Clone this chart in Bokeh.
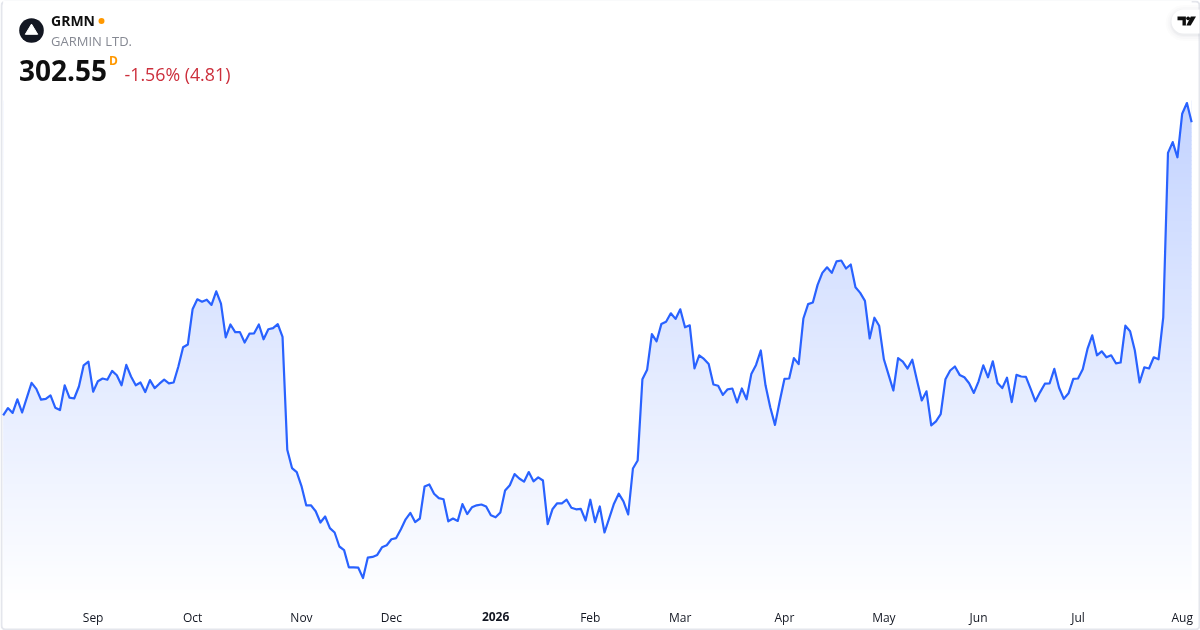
from bokeh.plotting import figure
from bokeh.models import Range1d, LinearAxis, FixedTicker
from bokeh.core.properties import value
from bokeh.embed import file_html
from bokeh.resources import INLINE

symbol = "GRMN"
company = "GARMIN LTD."
last_price = "302.55"
interval = "D"
change_text = "-1.56% (4.81)"

prices_aug_oct = [
    229.3, 231.1, 229.9, 233.3, 230.0, 233.7, 237.4, 235.9, 233.2, 233.4, 234.3, 231.2, 230.6, 236.8, 233.7,
    233.5, 236.5, 241.8, 242.7, 235.2, 237.8, 238.5, 238.2, 240.4, 239.3, 236.8, 241.9, 239.0, 236.8, 237.5,
    235.1, 238.1, 236.1, 237.2, 238.2, 237.3, 237.5, 241.5, 246.3, 247.0, 255.8, 258.3, 257.7, 258.2, 256.9,
    260.3, 257.2, 248.8, 252.0, 250.1, 250.1, 247.5, 249.7, 249.8, 252.0, 248.3, 250.8, 251.1, 252.1, 248.9,
]
prices_nov_jan = [
    220.7, 216.1, 215.1, 211.6, 206.8, 206.8, 205.3, 202.5, 204.0, 201.1, 200.0, 196.5, 195.6, 191.3, 191.3,
    191.2, 188.6, 193.7, 193.9, 194.4, 196.3, 196.8, 198.3, 198.6, 200.8, 203.3, 204.9, 202.6, 203.5, 211.5,
    212.0, 209.7, 208.6, 208.3, 202.8, 203.5, 202.9, 207.1, 204.6, 206.3, 206.8, 207.0, 206.5, 204.3, 203.8,
    205.0, 210.5, 211.8, 214.6, 213.5, 212.7, 215.1, 212.8, 213.8, 213.0, 202.1, 205.8, 207.3, 207.3, 208.2,
]
prices_feb_apr = [
    206.2, 205.8, 205.9, 203.0, 208.2, 202.6, 206.5, 200.0, 203.6, 207.2, 209.7, 207.8, 204.5, 216.0, 218.0,
    238.3, 240.7, 249.6, 247.8, 252.1, 252.7, 254.8, 253.4, 255.8, 251.3, 251.8, 241.0, 244.3, 243.4, 242.1,
    237.0, 236.7, 234.4, 235.8, 236.0, 232.5, 236.0, 233.3, 239.6, 241.9, 245.5, 236.8, 231.3, 226.9, 232.8,
    238.4, 238.5, 243.6, 242.1, 253.5, 257.1, 257.5,
]
prices_apr_jul = [
    261.9, 264.9, 266.3, 264.9, 267.8, 268.0, 266.0, 267.0, 261.3, 259.9, 257.9, 248.5, 253.7, 251.7, 243.3,
    239.4, 235.5, 243.6, 242.7, 241.0, 243.2, 238.0, 233.0, 235.3, 226.8, 227.8, 229.6, 238.3, 240.5, 241.5,
    239.4, 238.8, 237.3, 234.9, 237.8, 241.8, 238.8, 242.8, 237.4, 236.1, 238.7, 232.6, 239.4, 239.0, 238.9,
    235.9, 232.8, 235.1, 237.2, 237.3, 240.9, 236.2, 233.4, 234.8, 238.4, 238.5,
]
prices_jul_aug = [
    240.8, 245.9, 249.3, 244.3, 245.3, 243.8, 244.3, 242.3, 242.5, 251.7, 250.3, 245.5, 237.5, 241.3, 241.0,
    243.8, 243.3, 253.8, 294.9, 297.6, 293.8, 304.7, 307.36, 302.55,
]
month_labels = ["Sep", "Oct", "Nov", "Dec", "Feb", "Mar", "Apr", "May", "Jun", "Jul", "Aug"]
month_ticks = [19, 40, 63, 82, 124, 143, 165, 186, 206, 227, 249]
year_label = "2026"
year_tick = 104

prices = prices_aug_oct + prices_nov_jan + prices_feb_apr + prices_apr_jul + prices_jul_aug
days = list(range(len(prices)))

W, H = 1200, 630
PX_PER_DAY = 4.735
X0 = 2.67
PRICE_TOP = 333.0
PX_PER_PRICE = 4.0


def y_to_price(py):
    return PRICE_TOP - py / PX_PER_PRICE


p = figure(width=W, height=H, output_backend="svg", toolbar_location=None,
           x_range=Range1d(-X0 / PX_PER_DAY, (W - X0) / PX_PER_DAY),
           y_range=Range1d(y_to_price(H), PRICE_TOP),
           min_border=0, x_axis_type=None, y_axis_type=None)
p.grid.visible = False
p.outline_line_color = None
p.background_fill_color = "white"
p.border_fill_color = "white"
p.styles = {"position": "fixed", "left": "0", "top": "0"}
p.extra_x_ranges["px"] = Range1d(0, W)
p.extra_y_ranges["px"] = Range1d(H, 0)
px = dict(x_range_name="px", y_range_name="px")

# card border
p.quad(left=1, right=W - 1, top=1, bottom=H - 1, fill_color="white", line_color="#e4e6ec",
       line_width=2, border_radius=4, **px)

# gradient under the line, masked above it by white
grad_top, grad_bottom, band = 100, 606, 4
bt, bb, bc = [], [], []
for py in range(grad_top, grad_bottom, band):
    a = 0.28 * (grad_bottom - py - band / 2) / (grad_bottom - grad_top)
    r = round(255 - (255 - 41) * a)
    g = round(255 - (255 - 98) * a)
    bt.append(y_to_price(py))
    bb.append(y_to_price(py + band + 0.5))
    bc.append(f"#{r:02x}{g:02x}ff")
p.quad(left=days[0], right=days[-1], top=bt, bottom=bb, fill_color=bc, line_color=None)
p.varea(x=days, y1=prices, y2=PRICE_TOP, fill_color="white")
p.line(days, prices, line_color="#2962ff", line_width=2.2, line_join="round")

# time axis
for ticks, overrides, style, loc in [
    (month_ticks, dict(zip(month_ticks, month_labels)), "normal", 598),
    ([year_tick], {year_tick: year_label}, "bold", 601),
]:
    ax = LinearAxis(ticker=FixedTicker(ticks=ticks), major_label_overrides=overrides,
                    axis_line_color=None, major_tick_line_color=None, minor_tick_line_color=None,
                    major_label_text_font="Open Sans", major_label_text_font_size="12px",
                    major_label_text_color="#131722", major_label_text_font_style=style,
                    major_label_standoff=4, fixed_location=y_to_price(loc))
    p.add_layout(ax, "below")

# header
p.scatter([31], [30], size=24.6, marker="circle", fill_color="#131722", line_color=None, **px)
p.patch([31, 37.2, 24.8], [23.6, 33.8, 33.8], fill_color="white", line_color="white", line_width=1,
        line_join="round", **px)
txt = dict(text_font=value("Open Sans"), text_baseline="alphabetic", **px)
p.text([50.5], [20], text=[symbol], text_font_size="14px", text_font_style="bold", text_color="#0f0f0f", **txt)
p.scatter([101], [20.5], size=6, marker="circle", fill_color="#ff9800", line_color=None, **px)
p.text([50.5], [40], text=[company], text_font_size="13px", text_color="#868993", **txt)
p.text([18.5], [70], text=[last_price], text_font_size="28px", text_font_style="bold", text_color="#0f0f0f", **txt)
p.text([108.5], [60], text=[interval], text_font_size="12px", text_font_style="bold", text_color="#ff9800", **txt)
p.text([124], [73], text=[change_text], text_font_size="17.8px", text_color="#cc2f3c", **txt)

# logo pill at top right
for grow, alpha in [(6, 0.012), (4, 0.016), (2, 0.02), (1, 0.025)]:
    p.quad(left=1171 - grow, right=1199, top=9 - grow + 1.5, bottom=33 + grow + 1.5, fill_color="#131722",
           fill_alpha=alpha, line_color=None, border_radius=(12 + grow, 0, 0, 12 + grow), **px)
p.quad(left=1171, right=1199, top=9, bottom=33, fill_color="white", line_color=None,
       border_radius=(12, 0, 0, 12), **px)
p.patch([1177, 1185.4, 1185.4, 1182, 1182, 1177], [16, 16, 25, 25, 19.7, 19.7], fill_color="#0f0f0f",
        line_color=None, **px)
p.scatter([1187.6], [17.8], size=3.8, marker="circle", fill_color="#0f0f0f", line_color=None, **px)
p.patch([1190.3, 1195.5, 1190.2, 1185.8], [16, 16, 25, 25], fill_color="#0f0f0f", line_color=None, **px)

open("out.html", "w").write(file_html(p, INLINE))
